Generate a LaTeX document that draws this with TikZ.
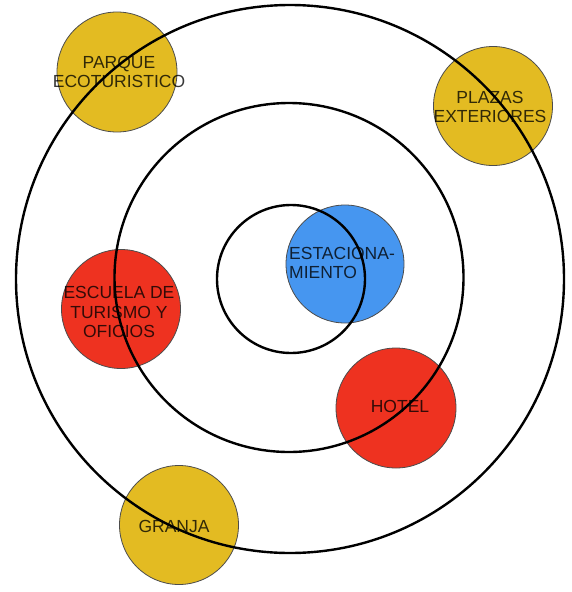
\documentclass[tikz,border=0pt]{standalone}
\usepackage{fontspec}
\setmainfont{Liberation Sans}
\definecolor{cyellow}{HTML}{E3BB22}
\definecolor{cred}{HTML}{EE3220}
\definecolor{cblue}{HTML}{4696F0}
\begin{document}
\begin{tikzpicture}[x=1pt,y=-1pt,
  spot/.style={circle,draw=black!70,line width=0.8pt,inner sep=0pt,minimum size=#1},
  ring/.style={draw=black,line width=2.4pt},
  lbl/.style={align=center,inner sep=0pt,text=black,text opacity=0.78,font=\fontsize{17.5}{19.5}\selectfont}]
\useasboundingbox (0,0) rectangle (572,592);
\fill[white] (0,0) rectangle (572,592);
% coloured spots
\node[spot=120pt,fill=cyellow] (parque) at (117,72) {};
\node[spot=119pt,fill=cyellow] (plazas) at (493,106) {};
\node[spot=118pt,fill=cblue] (estac) at (345,264) {};
\node[spot=119pt,fill=cred] (escuela) at (121,309) {};
\node[spot=120pt,fill=cred] (hotel) at (396,408) {};
\node[spot=119pt,fill=cyellow] (granja) at (179,525) {};
% rings
\draw[ring] (290,279) circle[radius=274];
\draw[ring] (289,277.5) circle[radius=174.5];
\draw[ring] (291,279) circle[radius=74];
% labels
\node[lbl] (tparque) at (119,72) {PARQUE\\ECOTURISTICO};
\node[lbl] (tplazas) at (490,107) {PLAZAS\\EXTERIORES};
\node[lbl,align=left,anchor=west] (testac) at (289,263) {ESTACIONA-\\MIENTO};
\node[lbl] (tescuela) at (119,312) {ESCUELA DE\\TURISMO Y\\OFICIOS};
\node[lbl] (thotel) at (400,406) {HOTEL};
\node[lbl] (tgranja) at (174,526) {GRANJA};
\end{tikzpicture}
\end{document}
